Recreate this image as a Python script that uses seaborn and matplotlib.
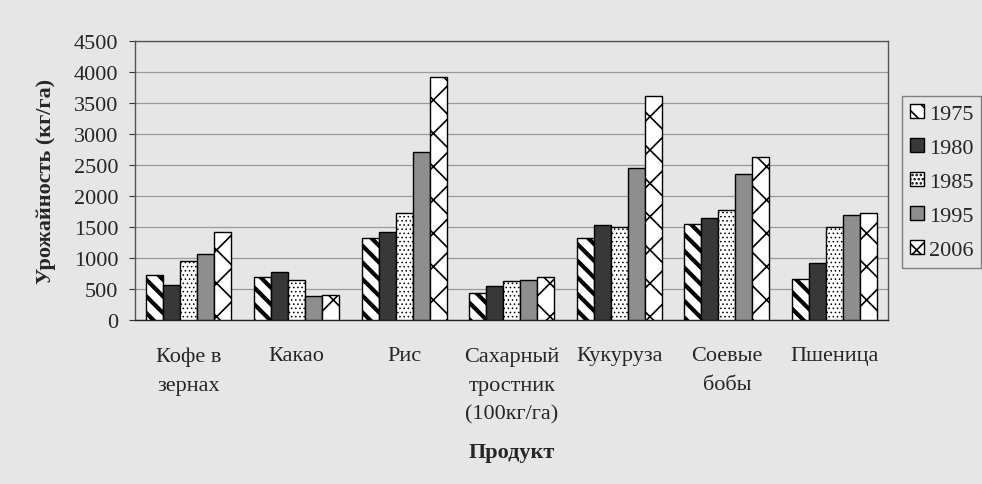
import pandas as pd
import numpy as np
import matplotlib
matplotlib.use("Agg")
import matplotlib.pyplot as plt
import seaborn as sns

# data
products = ["Кофе в\nзернах", "Какао", "Рис", "Сахарный\nтростник\n(100кг/га)",
            "Кукуруза", "Соевые\nбобы", "Пшеница"]
years = ["1975", "1980", "1985", "1995", "2006"]
y1975 = [730, 700, 1330, 440, 1330, 1550, 670]
y1980 = [570, 780, 1420, 550, 1540, 1650, 925]
y1985 = [950, 640, 1730, 630, 1500, 1780, 1505]
y1995 = [1070, 390, 2720, 640, 2460, 2365, 1700]
y2006 = [1420, 410, 3920, 700, 3610, 2630, 1735]

series = {"1975": y1975, "1980": y1980, "1985": y1985, "1995": y1995, "2006": y2006}
rows = []
for yr in years:
    for p, v in zip(products, series[yr]):
        rows.append({"Продукт": p, "Год": yr, "value": v})
df = pd.DataFrame(rows)

bg = "#e6e6e6"
sns.set_style("white")
plt.rcParams["font.family"] = ["Liberation Serif", "DejaVu Serif"]
plt.rcParams["hatch.linewidth"] = 1.2

fig = plt.figure(figsize=(9.82, 4.85), dpi=100, facecolor=bg)
ax = fig.add_axes([0.1375, 0.338, 0.767, 0.575])
ax.set_facecolor(bg)

colors = {"1975": "white", "1980": "#383838", "1985": "white", "1995": "#8e8e8e", "2006": "white"}
sns.barplot(data=df, x="Продукт", y="value", hue="Год", order=products, hue_order=years,
            palette=colors, saturation=1, width=0.79, errorbar=None, edgecolor="black",
            linewidth=1, legend=False, ax=ax, zorder=3)

hatches = ["\\\\", None, "....", None, "x"]
hatch_lw = [3.0, 1.0, 0.6, 1.0, 1.2]
for cont, h, hl in zip(ax.containers, hatches, hatch_lw):
    for bar in cont:
        if h:
            bar.set_hatch(h)
            if hasattr(bar, "set_hatch_linewidth"):
                bar.set_hatch_linewidth(hl)

ax.set_ylim(0, 4500)
ax.set_yticks(range(0, 4501, 500))
ax.set_xlim(-0.5, len(products) - 0.5)
ax.grid(axis="y", color="#9a9a9a", linewidth=0.9, zorder=0)
for s in ax.spines.values():
    s.set_color("#555555")
    s.set_linewidth(1)
ax.spines["bottom"].set_color("#222222")

ax.set_xticks(np.arange(-0.5, len(products), 1.0), minor=True)
ax.tick_params(axis="x", which="major", length=0, pad=19, labelsize=16)
ax.tick_params(axis="x", which="minor", length=5, color="#333333", direction="out")
ax.tick_params(axis="y", length=4, color="#333333", labelsize=16, pad=8, left=True)
for t in ax.get_xticklabels():
    t.set_linespacing(1.7)

ax.set_ylabel("Урожайность (кг/га)", fontsize=16, fontweight="bold", labelpad=13)
ax.set_xlabel("Продукт", fontsize=16, fontweight="bold", labelpad=13)

handles = [cont.patches[0] for cont in ax.containers]
leg = fig.legend(handles, years, loc="upper left", bbox_to_anchor=(0.919, 0.8),
                 fontsize=16, frameon=True, fancybox=False, handlelength=0.6,
                 handleheight=0.6, handletextpad=0.25, labelspacing=0.64,
                 borderpad=0.35, borderaxespad=0)
leg.get_frame().set_edgecolor("#666666")
leg.get_frame().set_facecolor(bg)
leg.get_frame().set_linewidth(1)

fig.savefig("out.png", dpi=100, facecolor=bg)
